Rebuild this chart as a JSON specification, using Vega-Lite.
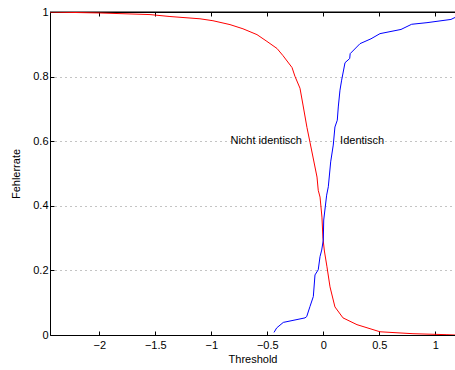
{
  "$schema": "https://vega.github.io/schema/vega-lite/v6.json",
  "width": 405,
  "height": 323,
  "autosize": {"type": "none"},
  "padding": {"left": 50, "top": 12, "right": 0, "bottom": 35},
  "background": "white",
  "config": {
    "view": {"stroke": null},
    "font": "Liberation Sans",
    "axis": {
      "labelFont": "Liberation Sans",
      "titleFont": "Liberation Sans",
      "labelFontSize": 11,
      "titleFontSize": 11,
      "titleFontWeight": "normal",
      "labelColor": "#000",
      "titleColor": "#000",
      "domainColor": "#000",
      "tickColor": "#000",
      "domainWidth": 1,
      "tickWidth": 1
    }
  },
  "datasets": {
    "curves": [
      {"x": -2.44, "y": 1.0, "series": "Nicht identisch"},
      {"x": -1.994, "y": 0.997, "series": "Nicht identisch"},
      {"x": -1.547, "y": 0.992, "series": "Nicht identisch"},
      {"x": -1.369, "y": 0.986, "series": "Nicht identisch"},
      {"x": -1.101, "y": 0.979, "series": "Nicht identisch"},
      {"x": -0.985, "y": 0.973, "series": "Nicht identisch"},
      {"x": -0.833, "y": 0.961, "series": "Nicht identisch"},
      {"x": -0.717, "y": 0.948, "series": "Nicht identisch"},
      {"x": -0.592, "y": 0.930, "series": "Nicht identisch"},
      {"x": -0.503, "y": 0.909, "series": "Nicht identisch"},
      {"x": -0.413, "y": 0.887, "series": "Nicht identisch"},
      {"x": -0.360, "y": 0.865, "series": "Nicht identisch"},
      {"x": -0.279, "y": 0.828, "series": "Nicht identisch"},
      {"x": -0.253, "y": 0.801, "series": "Nicht identisch"},
      {"x": -0.208, "y": 0.764, "series": "Nicht identisch"},
      {"x": -0.181, "y": 0.712, "series": "Nicht identisch"},
      {"x": -0.146, "y": 0.643, "series": "Nicht identisch"},
      {"x": -0.119, "y": 0.597, "series": "Nicht identisch"},
      {"x": -0.092, "y": 0.551, "series": "Nicht identisch"},
      {"x": -0.056, "y": 0.489, "series": "Nicht identisch"},
      {"x": -0.045, "y": 0.448, "series": "Nicht identisch"},
      {"x": -0.029, "y": 0.427, "series": "Nicht identisch"},
      {"x": -0.012, "y": 0.365, "series": "Nicht identisch"},
      {"x": -0.003, "y": 0.300, "series": "Nicht identisch"},
      {"x": 0.010, "y": 0.260, "series": "Nicht identisch"},
      {"x": 0.033, "y": 0.211, "series": "Nicht identisch"},
      {"x": 0.060, "y": 0.149, "series": "Nicht identisch"},
      {"x": 0.104, "y": 0.087, "series": "Nicht identisch"},
      {"x": 0.176, "y": 0.053, "series": "Nicht identisch"},
      {"x": 0.301, "y": 0.032, "series": "Nicht identisch"},
      {"x": 0.506, "y": 0.010, "series": "Nicht identisch"},
      {"x": 0.801, "y": 0.004, "series": "Nicht identisch"},
      {"x": 1.104, "y": 0.001, "series": "Nicht identisch"},
      {"x": 1.176, "y": 0.0, "series": "Nicht identisch"},
      {"x": -0.440, "y": 0.008, "series": "Identisch"},
      {"x": -0.416, "y": 0.022, "series": "Identisch"},
      {"x": -0.357, "y": 0.039, "series": "Identisch"},
      {"x": -0.163, "y": 0.053, "series": "Identisch"},
      {"x": -0.148, "y": 0.057, "series": "Identisch"},
      {"x": -0.119, "y": 0.088, "series": "Identisch"},
      {"x": -0.089, "y": 0.119, "series": "Identisch"},
      {"x": -0.074, "y": 0.186, "series": "Identisch"},
      {"x": -0.045, "y": 0.202, "series": "Identisch"},
      {"x": -0.029, "y": 0.243, "series": "Identisch"},
      {"x": -0.014, "y": 0.263, "series": "Identisch"},
      {"x": 0.0, "y": 0.294, "series": "Identisch"},
      {"x": 0.004, "y": 0.356, "series": "Identisch"},
      {"x": 0.030, "y": 0.433, "series": "Identisch"},
      {"x": 0.045, "y": 0.459, "series": "Identisch"},
      {"x": 0.066, "y": 0.536, "series": "Identisch"},
      {"x": 0.089, "y": 0.588, "series": "Identisch"},
      {"x": 0.104, "y": 0.644, "series": "Identisch"},
      {"x": 0.125, "y": 0.665, "series": "Identisch"},
      {"x": 0.134, "y": 0.706, "series": "Identisch"},
      {"x": 0.149, "y": 0.758, "series": "Identisch"},
      {"x": 0.164, "y": 0.789, "series": "Identisch"},
      {"x": 0.194, "y": 0.843, "series": "Identisch"},
      {"x": 0.236, "y": 0.856, "series": "Identisch"},
      {"x": 0.240, "y": 0.871, "series": "Identisch"},
      {"x": 0.328, "y": 0.902, "series": "Identisch"},
      {"x": 0.426, "y": 0.917, "series": "Identisch"},
      {"x": 0.506, "y": 0.933, "series": "Identisch"},
      {"x": 0.694, "y": 0.946, "series": "Identisch"},
      {"x": 0.789, "y": 0.962, "series": "Identisch"},
      {"x": 0.926, "y": 0.967, "series": "Identisch"},
      {"x": 1.140, "y": 0.977, "series": "Identisch"},
      {"x": 1.176, "y": 0.983, "series": "Identisch"}
    ],
    "labels": [
      {"x": -0.19, "y": 0.6, "label": "Nicht identisch", "side": "left"},
      {"x": 0.15, "y": 0.6, "label": "Identisch", "side": "right"}
    ],
    "topline": [{"y": 1}]
  },
  "layer": [
    {
      "data": {"name": "topline"},
      "mark": {"type": "rule", "color": "#000", "strokeWidth": 1},
      "encoding": {"y": {"field": "y", "type": "quantitative", "axis": null}}
    },
    {
      "data": {"name": "curves"},
      "mark": {"type": "line", "strokeWidth": 1, "clip": true},
      "encoding": {
        "x": {
          "field": "x", "type": "quantitative",
          "scale": {"domain": [-2.44, 1.176], "nice": false, "zero": false},
          "axis": {
            "orient": "bottom", "title": "Threshold", "values": [-2, -1.5, -1, -0.5, 0, 0.5, 1],
            "format": ".1~f", "grid": false, "tickSize": -4, "labelPadding": 8, "titlePadding": 3
          }
        },
        "y": {
          "field": "y", "type": "quantitative",
          "scale": {"domain": [0, 1], "nice": false},
          "axis": {
            "title": "Fehlerrate", "values": [0, 0.2, 0.4, 0.6, 0.8, 1], "format": ".1~f",
            "grid": true, "gridColor": "#888", "gridDash": [1, 4], "gridWidth": 1,
            "tickSize": -4, "labelPadding": 6, "titlePadding": 11
          }
        },
        "color": {
          "field": "series", "type": "nominal",
          "scale": {"domain": ["Nicht identisch", "Identisch"], "range": ["#ff0000", "#0000ff"]},
          "legend": null
        }
      }
    },
    {
      "data": {"name": "labels"},
      "transform": [{"filter": "datum.side == 'left'"}],
      "mark": {"type": "text", "align": "right", "baseline": "middle", "fontSize": 11, "font": "Liberation Sans", "color": "#000"},
      "encoding": {
        "x": {"field": "x", "type": "quantitative",
          "axis": {"orient": "top", "title": null, "labels": false, "grid": false, "domain": true, "ticks": true, "values": [-2, -1.5, -1, -0.5, 0, 0.5, 1], "tickSize": -4}},
        "y": {"field": "y", "type": "quantitative", "axis": null},
        "text": {"field": "label"}
      }
    },
    {
      "data": {"name": "labels"},
      "transform": [{"filter": "datum.side == 'right'"}],
      "mark": {"type": "text", "align": "left", "baseline": "middle", "fontSize": 11, "font": "Liberation Sans", "color": "#000"},
      "encoding": {
        "x": {"field": "x", "type": "quantitative", "axis": null},
        "y": {"field": "y", "type": "quantitative", "axis": null},
        "text": {"field": "label"}
      }
    }
  ],
  "resolve": {"axis": {"x": "independent", "y": "independent"}}
}
